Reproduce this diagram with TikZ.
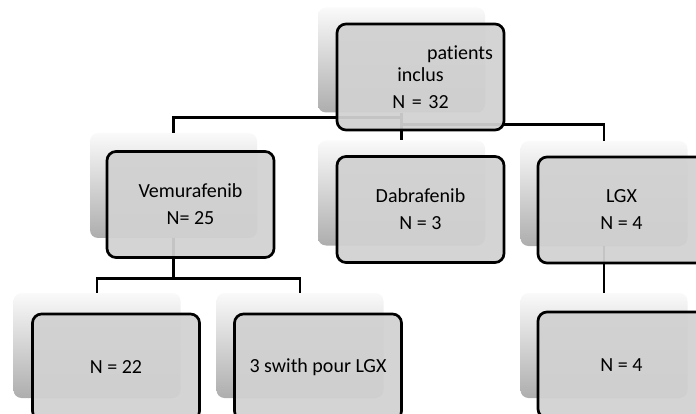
\documentclass[tikz,border=0pt]{standalone}
\usepackage{fontspec}
\setmainfont{Carlito}[Ligatures=NoCommon]
\usepackage{tikz}

\begin{document}
\begin{tikzpicture}[x=1pt,y=-1pt,
  back/.style={rounded corners=8pt,minimum width=167pt,minimum height=105pt,inner sep=0pt,top color=black!2,bottom color=black!32},
  box/.style={draw=black,line width=2.7pt,rounded corners=9pt,fill=black!18,fill opacity=0.94,text opacity=1,minimum width=167pt,minimum height=106pt,inner sep=0pt,align=center,font=\fontsize{20}{27}\selectfont,text=black},
  link/.style={draw=black,line width=2.6pt}]
\clip (0,0) rectangle (696,414);
% shadow boxes
\node[back] (inclB) at (401.5,60) {};
\node[back] (vemB) at (173.5,185.5) {};
\node[back] (dabB) at (401.5,193) {};
\node[back] (lgxB) at (604,193.5) {};
\node[back] (n22B) at (97,345.5) {};
\node[back] (swB) at (300,345.5) {};
\node[back] (lgx4B) at (604,345.5) {};
% connectors
\draw[link] (inclB.south) -- ++(0,5) -| (vemB.north);
\draw[link] (inclB.south) -- (dabB.north);
\draw[link] (inclB.south) ++(0,12) -| (lgxB.north);
\draw[link] (vemB.south) -- ++(0,40) -| (n22B.north);
\draw[link] (vemB.south) ++(0,40) -| (swB.north);
\draw[link] (lgxB.south) -- (lgx4B.north);
% boxes
\node[box,text width=145pt] (incl) at (420.5,77) {\hspace*{\fill}patients\\[-5pt]inclus\\N = 32};
\node[box] (vem) at (190.5,204.5) {Vemurafenib\\N= 25};
\node[box] (dab) at (420.5,209.5) {Dabrafenib\\N = 3};
\node[box] (lgx) at (621.5,210) {LGX\\N = 4};
\node[box] (n22) at (116,367) {N = 22};
\node[box] (sw) at (318,367) {3 swith pour LGX};
\node[box] (lgx4) at (621.5,365) {N = 4};
\end{tikzpicture}
\end{document}
